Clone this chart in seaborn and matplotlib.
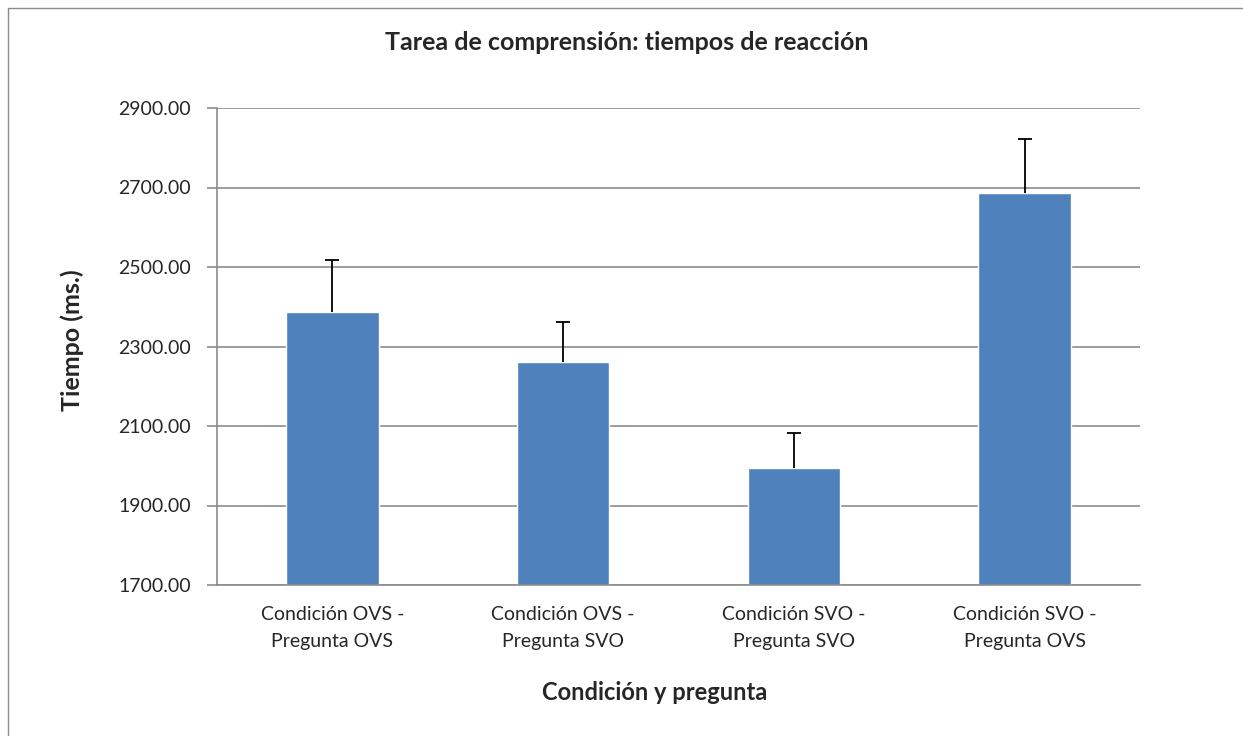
import matplotlib
matplotlib.use("Agg")
import matplotlib.pyplot as plt
import seaborn as sns
import numpy as np
from matplotlib.patches import Rectangle

# data
categories = ["Condición OVS -\nPregunta OVS", "Condición OVS -\nPregunta SVO",
              "Condición SVO -\nPregunta SVO", "Condición SVO -\nPregunta OVS"]
means = [2386, 2261, 1994, 2685]
err_up = [131, 100, 89, 136]
y_ticks = [1700, 1900, 2100, 2300, 2500, 2700, 2900]

sns.set_style("white")
plt.rcParams['font.family'] = ['Lato', 'DejaVu Sans']

W, H = 1243, 736
fig = plt.figure(figsize=(W / 100, H / 100), dpi=100)
ax = fig.add_axes([217 / W, 1 - 585 / H, (1140 - 217) / W, (585 - 108) / H])

sns.barplot(x=categories, y=means, color="#4F81BD", width=0.4, saturation=1, ax=ax)
_, caps, _ = ax.errorbar(np.arange(len(means)), means, yerr=[np.zeros(len(err_up)), err_up],
                         fmt="none", ecolor="black", elinewidth=1.3, capsize=5, capthick=1.3, zorder=5)
caps[0].set_visible(False)  # only the upper cap, like the original

ax.set_ylim(1700, 2900)
ax.set_xlim(-0.5, 3.5)
ax.set_yticks(y_ticks)
ax.set_yticklabels([f"{v:.2f}" for v in y_ticks], fontsize=14)
ax.yaxis.grid(True, color="#8c8c8c", linewidth=1.2)
ax.set_axisbelow(True)

ax.set_xticks(range(len(categories)))
ax.set_xticklabels(categories, fontsize=14, linespacing=1.75)
ax.set_xticks(np.arange(-0.5, 4.0, 1.0), minor=True)
ax.tick_params(axis="x", which="major", length=0, pad=15)
ax.tick_params(axis="x", which="minor", length=6, color="#8c8c8c", width=1.2)
ax.tick_params(axis="y", which="major", length=7, color="#8c8c8c", width=1.2, pad=12, left=True)

for side in ["top", "right"]:
    ax.spines[side].set_visible(False)
for side in ["left", "bottom"]:
    ax.spines[side].set_color("#8c8c8c")
    ax.spines[side].set_linewidth(1.2)

ax.set_ylabel("Tiempo (ms.)", fontsize=18, fontweight="bold", va="center")
ax.yaxis.set_label_coords((72 - 217) / 923, (585 - 340) / 477)
ax.set_xlabel("Condición y pregunta", fontsize=17, fontweight="bold", va="center")
ax.xaxis.set_label_coords((655 - 217) / 923, (585 - 693) / 477)
fig.text(627 / W, 1 - 43 / H, "Tarea de comprensión: tiempos de reacción",
         ha="center", va="center", fontsize=18, fontweight="bold")

# chart-area frame (top and left edges visible)
fig.patches.append(Rectangle((8 / W, -0.01), 1.02, 1 - 8 / H + 0.01, transform=fig.transFigure,
                             fill=False, edgecolor="#8c8c8c", linewidth=1))

fig.savefig("out.png", dpi=100)
